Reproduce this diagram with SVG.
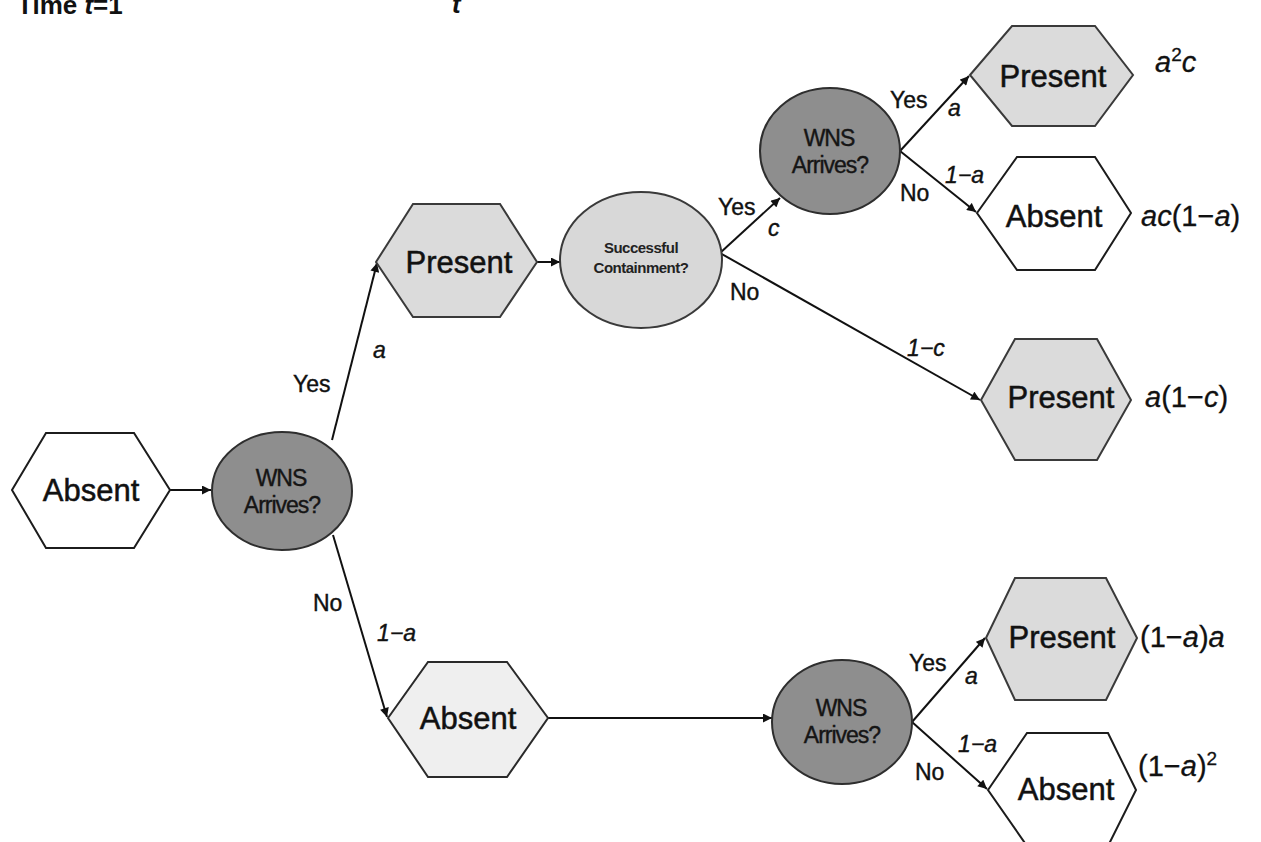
<svg xmlns="http://www.w3.org/2000/svg" width="1261" height="842" viewBox="0 0 1261 842">
<defs>
<marker id="ah" viewBox="0 0 10 10" refX="10" refY="5" markerWidth="10" markerHeight="9" markerUnits="userSpaceOnUse" orient="auto">
<path d="M0,0 L10,5 L0,10 z" fill="#111"/>
</marker>
</defs>
<style>
.hexw{fill:#ffffff;stroke:#1c1c1c;stroke-width:2}
.hexg{fill:#dbdbdb;stroke:#3a3a3a;stroke-width:2}
.hexl{fill:#efefef;stroke:#2a2a2a;stroke-width:2}
.wns{fill:#8e8e8e;stroke:#2e2e2e;stroke-width:2}
.cont{fill:#d8d8d8;stroke:#3a3a3a;stroke-width:2}
.node{font-family:"Liberation Sans",Arial,sans-serif;font-size:31px;fill:#111;stroke:#111;stroke-width:0.5;text-anchor:middle}
.wt{font-family:"Liberation Sans",Arial,sans-serif;font-size:23px;fill:#151515;stroke:#151515;stroke-width:0.4;text-anchor:middle;letter-spacing:-1px}
.ct{font-family:"Liberation Sans",Arial,sans-serif;font-size:15px;font-weight:bold;fill:#222;text-anchor:middle;letter-spacing:-0.5px}
.lbl{font-family:"Liberation Sans",Arial,sans-serif;font-size:23px;fill:#111;stroke:#111;stroke-width:0.4}
.it{font-family:"Liberation Sans",Arial,sans-serif;font-size:23px;font-style:italic;fill:#111;stroke:#111;stroke-width:0.4}
.res{font-family:"Liberation Sans",Arial,sans-serif;font-size:29px;fill:#111;stroke:#111;stroke-width:0.3}
.head{font-family:"Liberation Sans",Arial,sans-serif;font-size:26px;font-weight:bold;fill:#111}
.conn line{stroke:#111;stroke-width:2;marker-end:url(#ah)}
</style>

<text class="head" x="17" y="14">Time <tspan font-style="italic">t</tspan>=1</text>
<text class="head" x="452" y="13" font-style="italic">t</text>

<g id="connectors" class="conn">
<line x1="170" y1="490" x2="211" y2="490"/>
<line x1="332" y1="440" x2="377" y2="263"/>
<line x1="333" y1="535" x2="387" y2="717"/>
<line x1="537" y1="262" x2="560" y2="262"/>
<line x1="720" y1="253" x2="780" y2="198"/>
<line x1="720" y1="253" x2="980" y2="400"/>
<line x1="900" y1="151" x2="969" y2="76"/>
<line x1="900" y1="151" x2="976" y2="212"/>
<line x1="548" y1="718" x2="772" y2="718"/>
<line x1="912" y1="722" x2="985" y2="638"/>
<line x1="912" y1="722" x2="987" y2="789"/>
</g>

<g id="absent0">
<polygon class="hexw" points="12,490 46,433 134,433 170,490 134,548 46,548"/>
<text class="node" x="91" y="501">Absent</text>
</g>

<g id="wns0">
<ellipse class="wns" cx="282" cy="491" rx="70" ry="59"/>
<text class="wt" x="281" y="486">WNS</text>
<text class="wt" x="282" y="513">Arrives?</text>
</g>

<g id="present1">
<polygon class="hexg" points="376,262 413,204 500,204 537,262 500,317 413,317"/>
<text class="node" x="459" y="273">Present</text>
</g>

<g id="containment">
<ellipse class="cont" cx="641" cy="260" rx="81" ry="68"/>
<text class="ct" x="641" y="253">Successful</text>
<text class="ct" x="641" y="273">Containment?</text>
</g>

<g id="wns1">
<ellipse class="wns" cx="830" cy="151" rx="70" ry="63"/>
<text class="wt" x="829" y="146">WNS</text>
<text class="wt" x="830" y="173">Arrives?</text>
</g>

<g id="present_a2c">
<polygon class="hexg" points="970,75 1012,26 1095,26 1133,75 1095,126 1012,126"/>
<text class="node" x="1053" y="87">Present</text>
</g>
<text class="res" x="1155" y="72"><tspan font-style="italic">a</tspan><tspan font-size="19" dy="-11">2</tspan><tspan font-style="italic" dy="11">c</tspan></text>

<g id="absent_ac">
<polygon class="hexw" points="977,213 1017,157 1095,157 1131,213 1095,270 1017,270"/>
<text class="node" x="1054" y="227">Absent</text>
</g>
<text class="res" x="1141" y="226"><tspan font-style="italic">ac</tspan>(1−<tspan font-style="italic">a</tspan>)</text>

<g id="present_a1c">
<polygon class="hexg" points="981,400 1015,339 1097,339 1131,400 1097,460 1015,460"/>
<text class="node" x="1061" y="408">Present</text>
</g>
<text class="res" x="1145" y="407"><tspan font-style="italic">a</tspan>(1−<tspan font-style="italic">c</tspan>)</text>

<g id="absent_mid">
<polygon class="hexl" points="388,718 428,662 507,662 548,718 507,777 428,777"/>
<text class="node" x="468" y="729">Absent</text>
</g>

<g id="wns2">
<ellipse class="wns" cx="842" cy="722" rx="70" ry="62"/>
<text class="wt" x="841" y="716">WNS</text>
<text class="wt" x="842" y="743">Arrives?</text>
</g>

<g id="present_bot">
<polygon class="hexg" points="986,638 1015,578 1106,578 1137,638 1106,700 1015,700"/>
<text class="node" x="1062" y="648">Present</text>
</g>
<text class="res" x="1140" y="647">(1−<tspan font-style="italic">a</tspan>)<tspan font-style="italic">a</tspan></text>

<g id="absent_bot">
<polygon class="hexw" points="988,790 1027,733 1108,733 1136,790 1108,846 1027,846"/>
<text class="node" x="1066" y="800">Absent</text>
</g>
<text class="res" x="1138" y="776">(1−<tspan font-style="italic">a</tspan>)<tspan font-size="19" dy="-11">2</tspan></text>

<g id="edge-labels">
<text class="lbl" x="293" y="392">Yes</text>
<text class="it" x="373" y="358">a</text>
<text class="lbl" x="313" y="611">No</text>
<text class="it" x="377" y="641">1−a</text>
<text class="lbl" x="718" y="215">Yes</text>
<text class="it" x="768" y="236">c</text>
<text class="lbl" x="730" y="300">No</text>
<text class="it" x="907" y="356">1−c</text>
<text class="lbl" x="890" y="108">Yes</text>
<text class="it" x="948" y="116">a</text>
<text class="it" x="945" y="183">1−a</text>
<text class="lbl" x="900" y="201">No</text>
<text class="lbl" x="909" y="671">Yes</text>
<text class="it" x="965" y="684">a</text>
<text class="it" x="958" y="752">1−a</text>
<text class="lbl" x="915" y="780">No</text>
</g>
</svg>
